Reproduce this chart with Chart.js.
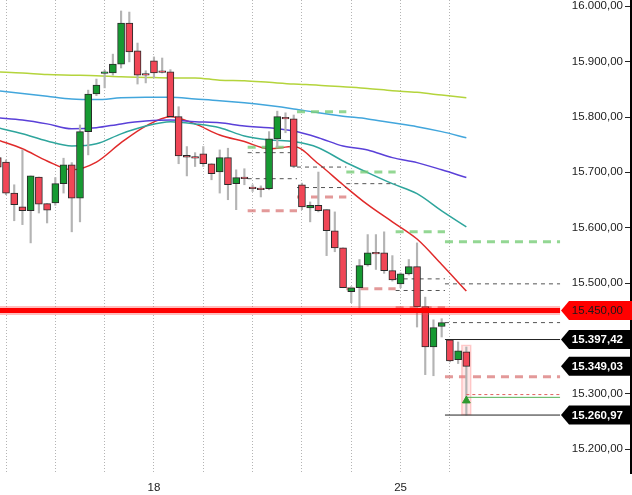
<!DOCTYPE html>
<html>
<head>
<meta charset="utf-8">
<script src="https://cdn.jsdelivr.net/npm/chart.js@4.4.1/dist/chart.umd.min.js"></script>
<style>
  html, body { margin: 0; padding: 0; background: #fff; }
  canvas { display: block; }
</style>
</head>
<body>
<canvas id="chart" width="632" height="495"></canvas>
<script>
// candles, index -1 is the cut one at the left edge
const firstCandle = -1;
const candleOpen = [15726, 15718, 15662, 15637, 15630, 15691, 15643, 15644, 15679, 15713,
  15653, 15773, 15841, 15878, 15879, 15895, 15969, 15919, 15878, 15901,
  15883, 15881, 15800, 15730, 15728, 15733, 15715, 15700, 15726, 15679,
  15691, 15673, 15671, 15670, 15760, 15799, 15796, 15677, 15635, 15640,
  15632, 15594, 15563, 15484, 15491, 15532, 15555, 15554, 15522, 15498,
  15516, 15529, 15457, 15384, 15421, 15397, 15361, 15375];
const candleHigh = [15740, 15722, 15677, 15740, 15693, 15691, 15643, 15690, 15725, 15717,
  15785, 15848, 15868, 15884, 15913, 15991, 15989, 15933, 15883, 15908,
  15906, 15885, 15818, 15746, 15735, 15746, 15715, 15740, 15743, 15704,
  15706, 15677, 15675, 15773, 15810, 15807, 15803, 15680, 15646, 15700,
  15632, 15628, 15563, 15493, 15542, 15587, 15587, 15592, 15549, 15518,
  15542, 15572, 15474, 15433, 15435, 15397, 15393, 15384];
const candleLow = [15704, 15659, 15612, 15605, 15572, 15626, 15608, 15640, 15662, 15592,
  15610, 15731, 15838, 15852, 15875, 15888, 15899, 15859, 15861, 15870,
  15879, 15799, 15715, 15693, 15710, 15710, 15686, 15662, 15650, 15632,
  15677, 15665, 15655, 15668, 15745, 15771, 15708, 15632, 15610, 15628,
  15549, 15556, 15491, 15464, 15455, 15530, 15524, 15517, 15503, 15491,
  15514, 15420, 15334, 15332, 15402, 15357, 15354, 15261];
const candleClose = [15709, 15662, 15641, 15630, 15693, 15642, 15631, 15679, 15713, 15653,
  15773, 15841, 15857, 15881, 15895, 15969, 15917, 15875, 15875, 15879,
  15880, 15800, 15729, 15727, 15725, 15715, 15697, 15726, 15677, 15690,
  15688, 15670, 15668, 15760, 15800, 15796, 15710, 15637, 15640, 15630,
  15594, 15563, 15491, 15491, 15531, 15554, 15552, 15522, 15505, 15516,
  15529, 15457, 15384, 15419, 15428, 15359, 15377, 15349];

const dayTicks = [0, 6, 12, 18, 24, 30, 36, 42, 48, 54];
const dayLabels = ["15", "16", "17", "18", "19", "22", "23", "24", "25", "26"];
const shownDays = ["18", "25"];
const priceTicks = [15200, 15300, 15400, 15500, 15600, 15700, 15800, 15900, 16000];

// moving averages, read at these candle positions
const maIdx = [-1, 2, 5, 8, 11, 14, 17, 20, 23, 26, 29, 32, 35, 38, 41, 44, 47, 50, 53, 56];
const maLime = [15881, 15879, 15876, 15875, 15874, 15872, 15871, 15870, 15870, 15866,
  15865, 15862, 15859, 15857, 15854, 15851, 15847, 15844, 15839, 15834];
const maSky = [15847, 15842, 15837, 15832, 15831, 15834, 15835, 15835, 15832, 15829,
  15825, 15820, 15814, 15807, 15801, 15796, 15789, 15782, 15773, 15762];
const maViolet = [15798, 15794, 15787, 15778, 15780, 15787, 15792, 15794, 15791, 15789,
  15783, 15780, 15774, 15762, 15747, 15740, 15726, 15717, 15704, 15690];
const maTeal = [15780, 15769, 15756, 15747, 15751, 15769, 15783, 15791, 15787, 15780,
  15765, 15758, 15755, 15744, 15720, 15699, 15679, 15661, 15630, 15601];
const maRed = [15758, 15742, 15720, 15704, 15718, 15753, 15783, 15800, 15787, 15767,
  15755, 15742, 15746, 15715, 15677, 15641, 15610, 15579, 15533, 15485];

// daily levels
const segStart = [29.4, 35.4, 41.4, 47.4, 53.4];
const segEnd = [35.4, 41.4, 47.4, 53.4, 67.4];
const grayUpper = [15735, 15709, 15679, 15507, 15498];
const grayLower = [15688, 15672, null, 15486, 15428];
const redDash = [15630, 15655, 15489, 15455, 15330];
const greenDash = [15745, 15809, 15700, 15592, 15574];

const supportLevel = 15450;
const dayHigh = 15397.42;
const lastPrice = 15349.03;
const dayLow = 15260.97;
const entryLevel = 15293;
const stopLevel = 15298;
const signalPrice = 15287;
const tagValues = [supportLevel, dayHigh, lastPrice, dayLow];

const fmt = (v) => {
  const [i, d] = Number(v).toFixed(2).split(".");
  return i.replace(/\B(?=(\d{3})+(?!\d))/g, ".") + "," + d;
};

const seg = (x0, x1, y) => [{ x: x0, y }, { x: x1, y }];
const lineDs = (data, color, width, dash, order) => ({
  type: "line", data, borderColor: color, borderWidth: width, borderDash: dash || [],
  pointRadius: 0, fill: false, order
});

const datasets = [];

[[maLime, "#b4d43c"], [maSky, "#42a6dc"], [maViolet, "#5a40d8"], [maTeal, "#2ea59c"], [maRed, "#e02a2a"]]
  .forEach(([vals, color]) => {
    datasets.push({
      type: "line",
      data: maIdx.map((x, k) => ({ x, y: vals[k] })),
      borderColor: color, borderWidth: 1.5, pointRadius: 0,
      cubicInterpolationMode: "monotone", order: 50
    });
  });

segStart.forEach((s, k) => {
  datasets.push(lineDs(seg(s, segEnd[k], greenDash[k]), "rgba(120,205,120,0.8)", 3, [8, 6], 40));
  datasets.push(lineDs(seg(s, segEnd[k], redDash[k]), "rgba(215,110,110,0.7)", 3, [8, 6], 40));
  datasets.push(lineDs(seg(s, segEnd[k], grayUpper[k]), "#555", 1, [4, 4], 40));
  if (grayLower[k] !== null) datasets.push(lineDs(seg(s, segEnd[k], grayLower[k]), "#555", 1, [4, 4], 40));
});

const lastIdx = firstCandle + candleOpen.length - 1;

// highlight of the running candle
datasets.push({
  type: "bar", data: [{ x: lastIdx, y: [dayLow, candleHigh[candleHigh.length - 1] + 4] }],
  backgroundColor: "rgba(255,120,120,0.18)", borderColor: "rgba(255,120,120,0.35)",
  borderWidth: 1, borderSkipped: false, barThickness: 10, grouped: false, order: 35
});

datasets.push({
  type: "bar",
  data: candleOpen.map((o, k) => ({ x: firstCandle + k, y: [candleLow[k], candleHigh[k]] })),
  backgroundColor: "#b4b4b4", barThickness: 1.5, grouped: false, order: 30
});

datasets.push({
  type: "bar",
  data: candleOpen.map((o, k) => ({ x: firstCandle + k, y: [o, candleClose[k]] })),
  backgroundColor: (c) => candleClose[c.dataIndex] >= candleOpen[c.dataIndex] ? "#169a32" : "#f04656",
  borderColor: "#2a2a2a", borderWidth: 1, borderSkipped: false,
  barThickness: 7, grouped: false, order: 20
});

datasets.push(lineDs(seg(53.4, 67.4, dayHigh), "#222", 1, null, 15));
datasets.push(lineDs(seg(53.4, 67.4, dayLow), "#222", 1, null, 15));
datasets.push(lineDs(seg(lastIdx, 67.4, entryLevel), "#55b055", 1, null, 15));
datasets.push(lineDs(seg(lastIdx, 67.4, stopLevel), "#e06060", 1, [3, 3], 15));

datasets.push(lineDs(seg(-1, 67.4, supportLevel), "rgba(255,70,70,0.35)", 9, null, 11));
datasets.push(lineDs(seg(-1, 67.4, supportLevel), "#ff0000", 5, null, 10));

datasets.push({
  type: "line", data: [{ x: lastIdx, y: signalPrice }], showLine: false,
  pointStyle: "triangle", pointRadius: 4.5, pointBackgroundColor: "#2e9a2e",
  pointBorderColor: "#2e9a2e", order: 5
});

const tagPlugin = {
  id: "priceTags",
  afterDatasetsDraw(chart) {
    const { ctx, scales: { y }, chartArea } = chart;
    ctx.save();
    ctx.strokeStyle = "#222";
    ctx.lineWidth = 1;
    priceTicks.forEach(v => {
      const py = Math.round(y.getPixelForValue(v)) + 0.5;
      ctx.beginPath();
      ctx.moveTo(chartArea.right - 6, py);
      ctx.lineTo(chartArea.right - 1, py);
      ctx.stroke();
    });
    tagValues.forEach((v, k) => {
      const py = y.getPixelForValue(v);
      ctx.beginPath();
      ctx.moveTo(561, py);
      ctx.lineTo(569, py - 9.5);
      ctx.lineTo(632, py - 9.5);
      ctx.lineTo(632, py + 9.5);
      ctx.lineTo(569, py + 9.5);
      ctx.closePath();
      ctx.fillStyle = k === 0 ? "#ff0000" : "#000";
      ctx.fill();
      ctx.fillStyle = k === 0 ? "#1a1a1a" : "#fff";
      ctx.font = (k === 0 ? "" : "bold ") + "11.5px 'Liberation Sans', Arial, sans-serif";
      ctx.textAlign = "right";
      ctx.textBaseline = "middle";
      ctx.fillText(fmt(v), 623, py + 0.5);
    });
    ctx.restore();
  }
};

const font = { family: "'Liberation Sans', Arial, sans-serif", size: 11.5 };

new Chart(document.getElementById("chart"), {
  type: "bar",
  data: { datasets },
  options: {
    responsive: false,
    animation: false,
    devicePixelRatio: 1,
    layout: { autoPadding: false, padding: { left: 0, right: 1, top: 0, bottom: 0 } },
    plugins: { legend: { display: false }, tooltip: { enabled: false } },
    scales: {
      x: {
        type: "linear", offset: false, min: -0.73, max: 76.03,
        afterBuildTicks: (s) => { s.ticks = dayTicks.map(value => ({ value })); },
        afterFit: (s) => { s.paddingLeft = 0; s.paddingRight = 0; s.height = 22; },
        grid: { color: "#b4b4b4", lineWidth: 1, drawTicks: false, offset: false },
        border: { display: false, dash: [1, 2] },
        ticks: {
          autoSkip: false, maxRotation: 0, minRotation: 0, padding: 8, color: "#222", font,
          callback: (v) => {
            const d = dayLabels[dayTicks.indexOf(v)];
            return shownDays.includes(d) ? d : "";
          }
        }
      },
      y: {
        type: "linear", position: "right", min: 15156.3, max: 16010.8,
        afterBuildTicks: (s) => { s.ticks = priceTicks.map(value => ({ value })); },
        afterFit: (s) => { s.paddingTop = 0; s.paddingBottom = 0; s.width = 0; },
        grid: { display: false, drawTicks: false },
        border: { display: true, color: "#000", width: 2 },
        ticks: { mirror: true, padding: -8, color: "#222", font, callback: (v) => fmt(v) }
      }
    }
  },
  plugins: [tagPlugin]
});
</script>
</body>
</html>
